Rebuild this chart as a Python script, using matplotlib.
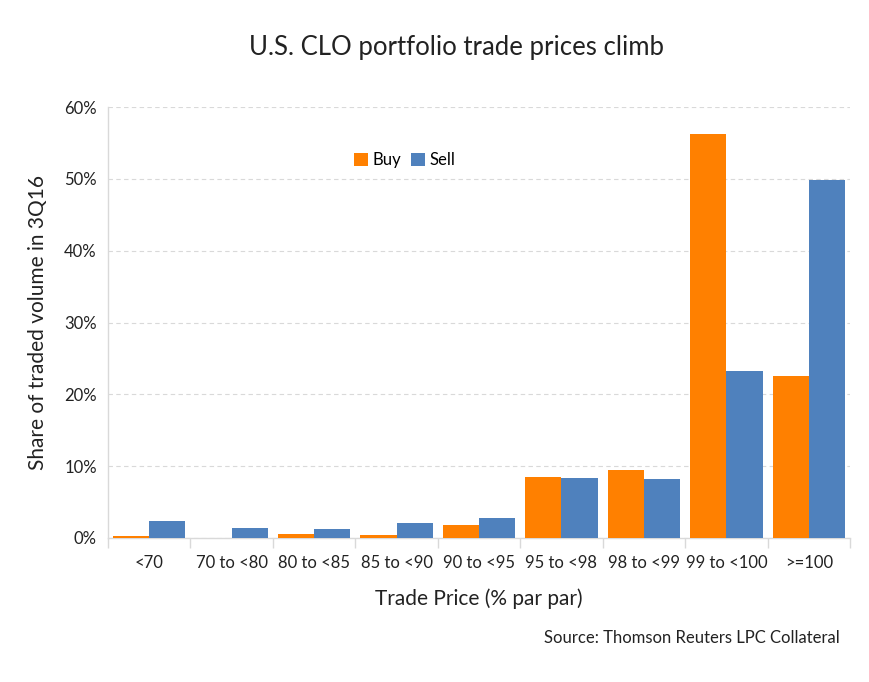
import matplotlib
matplotlib.use("Agg")
import matplotlib.pyplot as plt
import numpy as np
from matplotlib.ticker import FuncFormatter, FixedLocator

categories = ["<70", "70 to <80", "80 to <85", "85 to <90", "90 to <95",
              "95 to <98", "98 to <99", "99 to <100", ">=100"]
buy = [0.25, 0.0, 0.6, 0.45, 1.85, 8.5, 9.4, 56.3, 22.5]
sell = [2.4, 1.45, 1.3, 2.1, 2.8, 8.4, 8.2, 23.2, 49.8]
yticks = [0, 10, 20, 30, 40, 50, 60]

plt.rcParams['font.family'] = ['Lato', 'DejaVu Sans']

W, H = 869, 682
fig = plt.figure(figsize=(W/100, H/100), dpi=100)
ax = fig.add_axes([108/W, 1-538/H, (850-108)/W, (538-107)/H])

x = np.arange(len(categories))
bw = 0.44
ax.bar(x - bw/2, buy, bw, color="#FF8000", label="Buy", zorder=3)
ax.bar(x + bw/2, sell, bw, color="#4F81BD", label="Sell", zorder=3)

ax.set_xlim(-0.5, len(categories) - 0.5)
ax.set_ylim(0, 60)
ax.set_yticks(yticks)
ax.yaxis.set_major_formatter(FuncFormatter(lambda v, p: f"{v:.0f}%"))
ax.yaxis.grid(True, linestyle=(0, (4, 3)), color="#d9d9d9", linewidth=0.8, zorder=0)
ax.tick_params(axis='y', length=0, labelsize=12, colors="#222222", pad=8)

ax.set_xticks(x)
ax.set_xticklabels(categories)
ax.tick_params(axis='x', which='major', length=0, labelsize=12, colors="#222222", pad=12)
ax.xaxis.set_minor_locator(FixedLocator(np.arange(-0.5, len(categories), 1)))
ax.tick_params(axis='x', which='minor', length=7, color="#d9d9d9", width=1)

for s in ["top", "right"]:
    ax.spines[s].set_visible(False)
for s in ["left", "bottom"]:
    ax.spines[s].set_color("#d9d9d9")
    ax.spines[s].set_linewidth(1)
    ax.spines[s].set_zorder(1)

ax.set_ylabel("Share of traded volume in 3Q16", fontsize=15, color="#222222", labelpad=12)
ax.set_xlabel("Trade Price (% par par)", fontsize=15, color="#222222", labelpad=13)

fig.text(0.525, 1-47/H, "U.S. CLO portfolio trade prices climb", ha="center", va="center",
         fontsize=18.5, color="#222222")
fig.text(840/W, 1-638/H, "Source: Thomson Reuters LPC Collateral", ha="right", va="center",
         fontsize=12, color="#222222")

leg = ax.legend(loc="center", bbox_to_anchor=((405-108)/(850-108), (538-160)/(538-107)),
                ncol=2, frameon=False, fontsize=12, handlelength=0.8, handleheight=0.8,
                handletextpad=0.3, columnspacing=0.6)

fig.savefig("out.png", dpi=100)
